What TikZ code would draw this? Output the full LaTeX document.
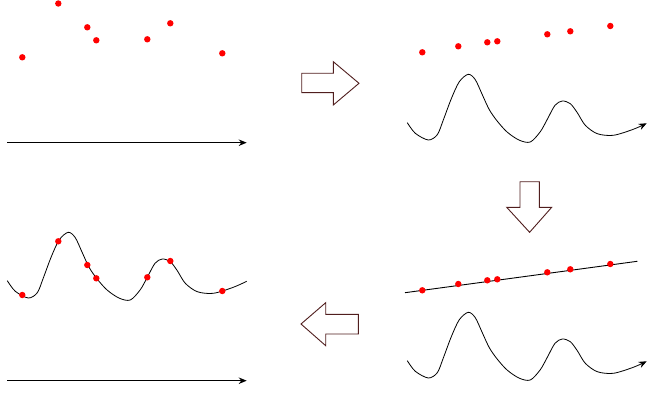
\documentclass[tikz,border=0pt]{standalone}
\usetikzlibrary{arrows.meta}
\definecolor{blockcol}{RGB}{80,30,30}
\tikzset{
  dot/.style={fill=red},
  axisline/.style={line width=1.1pt,-{Stealth[length=8pt,width=6.5pt]}},
  wavecurve/.style={line width=0.8pt},
  blockarrow/.style={draw=blockcol,line width=0.9pt,fill=white,line join=miter},
  fitline/.style={line width=0.9pt}
}
\begin{document}
\begin{tikzpicture}[x=1pt,y=-1pt]
\useasboundingbox (0,0) rectangle (648,401);
% top-left
\foreach \p in {(22.3,57.3),(58.3,3.5),(87.3,27.3),(96.3,40.3),(147.3,39.3),(170.3,23.3),(222.3,53.3)}
  \fill[dot] \p circle (3.2);
\coordinate (ax1s) at (7.3,142.7);
\coordinate (ax1e) at (246.7,142.7);
\draw[axisline] (ax1s) -- (ax1e);
% right block arrow
\draw[blockarrow] (301.7,73.3) -- (333.3,73.3) -- (333.3,61.7) -- (359,83.3) -- (333.3,105) -- (333.3,92.7) -- (301.7,92.7) -- cycle;
% top-right
\foreach \p in {(422.3,52.3),(458.3,46.3),(487.3,42.3),(497.3,41.3),(547.3,34.3),(570.3,31.3),(610.3,26)}
  \fill[dot] \p circle (3.2);
\coordinate (w1) at (407.3,122.7);
\draw[wavecurve,shift={(w1)},-{Stealth[length=8pt,width=6.5pt]}] plot[smooth] coordinates {(0,0) (8,10.6) (21,17.3) (30,12) (36,-2.7) (44,-24) (52,-41) (61,-48.4) (68,-43) (75,-28) (82,-13) (90,-1.5) (100,9.5) (112,17.5) (123,19.3) (133,9) (140,-3.4) (147.7,-17.4) (155,-21.7) (163,-19) (170,-10) (178,2.6) (190,11) (206,12.6) (226,6.6) (239.4,0.6)};
% down block arrow
\draw[blockarrow] (520,181.7) -- (539.3,181.7) -- (539.3,207.3) -- (551.7,207.3) -- (529.6,232.3) -- (506.7,207.3) -- (520,207.3) -- cycle;
% bottom-right
\coordinate (fl1) at (405,292.7);
\coordinate (fl2) at (637.3,261.3);
\draw[fitline] (fl1) -- (fl2);
\foreach \p in {(422.3,290.3),(458.3,284),(487.3,280.3),(497.3,279.3),(547.3,272.3),(570.3,269.3),(610.3,264)}
  \fill[dot] \p circle (3.2);
\coordinate (w2) at (407.3,360.7);
\draw[wavecurve,shift={(w2)},-{Stealth[length=8pt,width=6.5pt]}] plot[smooth] coordinates {(0,0) (8,10.6) (21,17.3) (30,12) (36,-2.7) (44,-24) (52,-41) (61,-48.4) (68,-43) (75,-28) (82,-13) (90,-1.5) (100,9.5) (112,17.5) (123,19.3) (133,9) (140,-3.4) (147.7,-17.4) (155,-21.7) (163,-19) (170,-10) (178,2.6) (190,11) (206,12.6) (226,6.6) (239.4,0.6)};
% left block arrow
\draw[blockarrow] (358.3,314.3) -- (325.7,314.3) -- (325.7,302.7) -- (301,324) -- (325.7,345.7) -- (325.7,334) -- (358.3,334) -- cycle;
% bottom-left
\coordinate (w3) at (7.3,280.7);
\draw[wavecurve,shift={(w3)}] plot[smooth] coordinates {(0,0) (8,10.6) (21,17.3) (30,12) (36,-2.7) (44,-24) (52,-41) (61,-48.4) (68,-43) (75,-28) (82,-13) (90,-1.5) (100,9.5) (112,17.5) (123,19.3) (133,9) (140,-3.4) (147.7,-17.4) (155,-21.7) (163,-19) (170,-10) (178,2.6) (190,11) (206,12.6) (226,6.6) (239.4,0.6)};
\foreach \p in {(22.3,295),(58.3,241.3),(87.3,265),(96.3,278.3),(147.3,277.3),(170.3,261),(222.3,291)}
  \fill[dot] \p circle (3.2);
\coordinate (ax2s) at (7.3,380.7);
\coordinate (ax2e) at (246.7,380.7);
\draw[axisline] (ax2s) -- (ax2e);
\end{tikzpicture}
\end{document}
